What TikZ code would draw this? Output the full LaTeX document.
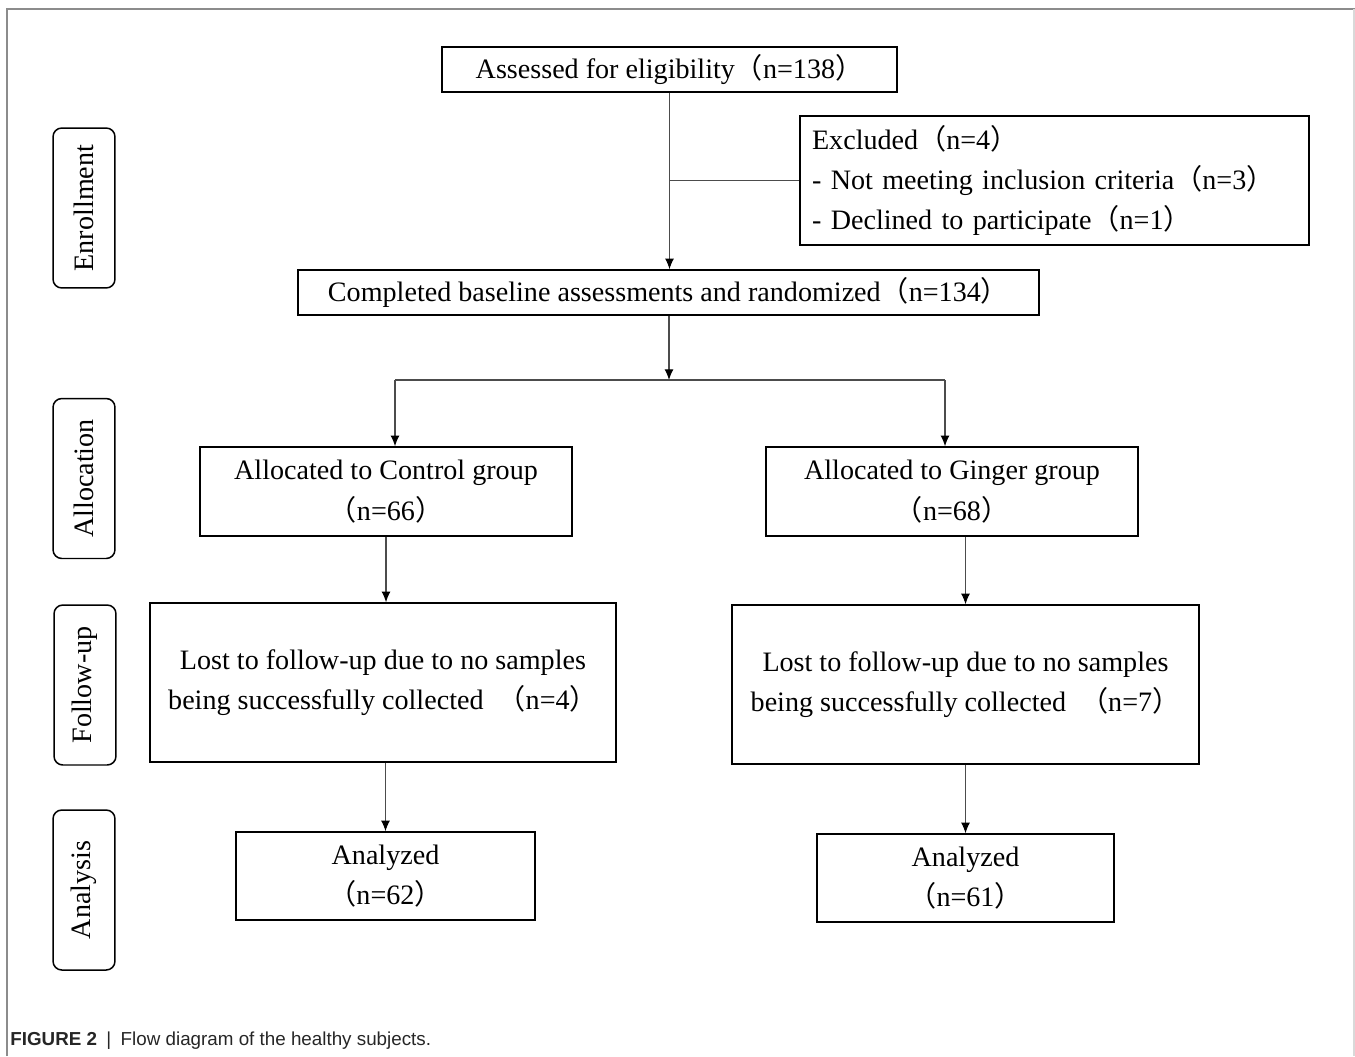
\documentclass[tikz,border=0pt]{standalone}
\usepackage{fontspec}
\setmainfont{Liberation Serif}
\setsansfont{Liberation Sans}
\newfontfamily\cjk{Noto Sans CJK SC}
\usepackage{tikz}
\usetikzlibrary{arrows.meta}
\definecolor{linegray}{rgb}{0.3,0.3,0.3}
\definecolor{framegray}{rgb}{0.55,0.55,0.55}
\newcommand{\lp}{{\cjk （}}
\newcommand{\rp}{{\cjk ）}}

\begin{document}
\begin{tikzpicture}[x=0.02cm,y=-0.02cm,>={Latex[length=6pt,width=5pt,black]},
		flowbox/.style={draw,line width=0.85pt,inner sep=0pt,align=center,
			font=\fontsize{16}{23}\selectfont},
		stagebox/.style={draw,line width=0.85pt,rounded corners=5pt,inner sep=0pt,
			minimum width=3.2cm,minimum height=1.24cm,rotate=90,
			font=\fontsize{16}{18}\selectfont},
		conn/.style={linegray,line width=0.6pt}]
		
		\useasboundingbox (0,0) rectangle (1355,1056);
		% frame round the figure
		\draw[framegray,line width=0.8pt] (7,1056) -- (7,9) -- (1355,9);
		\draw[black!15,line width=0.6pt] (1354,9) -- (1354,1056);
		
		% stages
		\node[stagebox] (enrol) at (84,208) {Enrollment};
		\node[stagebox] (alloc) at (84,478.5) {Allocation};
		\node[stagebox] (follow) at (85,685) {Follow-up};
		\node[stagebox] (anal) at (84,890) {Analysis};
		
		% boxes
		\node[flowbox,minimum width=9.1cm,minimum height=0.9cm] (assess) at (669.5,69.5)
		{Assessed for eligibility\lp n=138\rp};
		\node[flowbox,align=left,text width=9.7cm,inner xsep=0.24cm,minimum height=2.58cm] (excl) at (1054.5,180.5)
		{Excluded\lp n=4\rp\\- Not meeting inclusion criteria\lp n=3\rp\\- Declined to participate\lp n=1\rp};
		\node[flowbox,minimum width=14.82cm,minimum height=0.9cm] (complete) at (668.5,292.5)
		{Completed baseline assessments and randomized\lp n=134\rp};
		\node[flowbox,minimum width=7.44cm,minimum height=1.78cm] (ctrl) at (386,491.5)
		{Allocated to Control group\\\lp n=66\rp};
		\node[flowbox,minimum width=7.44cm,minimum height=1.78cm] (ging) at (952,491.5)
		{Allocated to Ginger group\\\lp n=68\rp};
		\node[flowbox,minimum width=9.32cm,minimum height=3.18cm] (fuc) at (383,682.5)
		{Lost to follow-up due to no samples\\being successfully collected \ \lp n=4\rp};
		\node[flowbox,minimum width=9.34cm,minimum height=3.18cm] (fug) at (965.5,684.5)
		{Lost to follow-up due to no samples\\being successfully collected \ \lp n=7\rp};
		\node[flowbox,minimum width=5.98cm,minimum height=1.76cm] (anc) at (385.5,876)
		{Analyzed\\\lp n=62\rp};
		\node[flowbox,minimum width=5.94cm,minimum height=1.76cm] (ang) at (965.5,878)
		{Analyzed\\\lp n=61\rp};
		
		% connectors
		\coordinate (split) at (669,380);
		\coordinate (splitL) at (395,380);
		\coordinate (splitR) at (945,380);
		\draw[conn,->] (assess.south) -- (assess.south |- complete.north);
		\draw[conn] (assess.south |- excl.west) -- (excl.west);
		\draw[conn,->] (split |- complete.south) -- (split);
		\draw[conn] (splitL) -- (splitR);
		\draw[conn,->] (splitL) -- (splitL |- ctrl.north);
		\draw[conn,->] (splitR) -- (splitR |- ging.north);
		\draw[conn,->] (ctrl.south) -- (ctrl.south |- fuc.north);
		\draw[conn,->] (fug.north |- ging.south) -- (fug.north);
		\draw[conn,->] (anc.north |- fuc.south) -- (anc.north);
		\draw[conn,->] (fug.south) -- (ang.north);
		
		% caption
		\node[anchor=west,inner sep=0pt,font=\sffamily\fontsize{10.7}{12}\selectfont,black!85] (cap) at (10,1041)
		{\textbf{FIGURE 2}\enspace|\enspace Flow diagram of the healthy subjects.};
		
\end{tikzpicture}
\end{document}
